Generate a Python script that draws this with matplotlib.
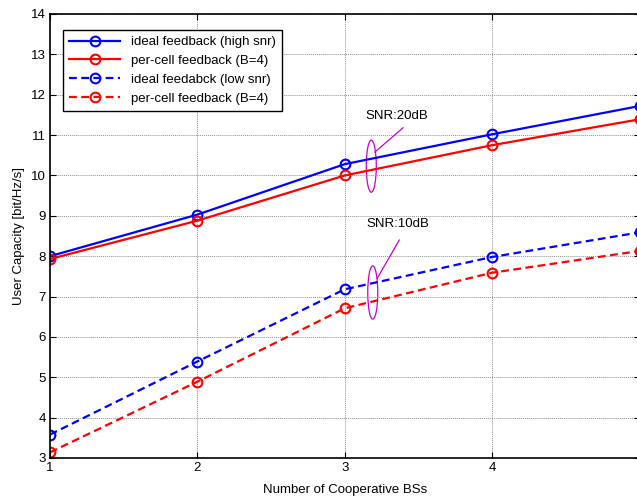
import numpy as np
import matplotlib
matplotlib.use('Agg')
import matplotlib.pyplot as plt
from matplotlib.patches import Ellipse

plt.rcParams['font.family'] = ['Liberation Sans', 'DejaVu Sans']

# data
bs = [1, 2, 3, 4, 5]
ideal_high = [8.0, 9.03, 10.28, 11.02, 11.72]
percell_high = [7.93, 8.88, 10.0, 10.75, 11.39]
ideal_low = [3.58, 5.39, 7.18, 7.98, 8.59]
percell_low = [3.14, 4.89, 6.71, 7.59, 8.13]

labels = ['ideal feedback (high snr)', 'per-cell feedback (B=4)',
          'ideal feedabck (low snr)', 'per-cell feedback (B=4)']
xtick_labels = ['1', '2', '3', '4', '']  # the 5 is cut off in the original

W, H = 637, 499
fig = plt.figure(figsize=(W / 100, H / 100), dpi=100)
ax = fig.add_axes([50 / W, 1 - 458 / H, 589.5 / W, 444 / H])

kw = dict(marker='o', markersize=7, markerfacecolor='none', markeredgewidth=1.5, linewidth=1.6)
ax.plot(bs, ideal_high, color='#0000ff', linestyle='-', label=labels[0], **kw)
ax.plot(bs, percell_high, color='#ff0000', linestyle='-', label=labels[1], **kw)
ax.plot(bs, ideal_low, color='#0000ff', linestyle=(0, (3.5, 2)), label=labels[2], **kw)
ax.plot(bs, percell_low, color='#ff0000', linestyle=(0, (3.5, 2)), label=labels[3], **kw)

ax.set_xlim(1, 5)
ax.set_ylim(3, 14)
ax.set_xticks(bs)
ax.set_xticklabels(xtick_labels)
ax.set_yticks(range(3, 15))
ax.tick_params(direction='in', top=True, right=True, labelsize=9.5, length=4, pad=3)
ax.grid(True, color='#909090', linestyle=(0, (1, 1)), linewidth=0.7)
for s in ax.spines.values():
    s.set_linewidth(1.2)

ax.set_xlabel('Number of Cooperative BSs', fontsize=9.5, labelpad=7)
ax.set_ylabel('User Capacity [bit/Hz/s]', fontsize=9.5, labelpad=4)

# SNR annotations
mag = '#cc00cc'
ax.add_patch(Ellipse((3.18, 10.23), 0.068, 1.29, fill=False, edgecolor=mag, linewidth=0.9))
ax.plot([3.205, 3.395], [10.58, 11.18], color=mag, linewidth=0.9)
ax.text(3.35, 11.48, 'SNR:20dB', fontsize=9.5, ha='center', va='center')
ax.add_patch(Ellipse((3.19, 7.1), 0.068, 1.32, fill=False, edgecolor=mag, linewidth=0.9))
ax.plot([3.22, 3.37], [7.45, 8.4], color=mag, linewidth=0.9)
ax.text(3.36, 8.8, 'SNR:10dB', fontsize=9.5, ha='center', va='center')

leg = ax.legend(loc='upper left', bbox_to_anchor=(13 / 589.5, 1 - 16 / 444), fontsize=9.5,
                frameon=True, fancybox=False, edgecolor='black', framealpha=1,
                handlelength=3.9, borderpad=0.45, labelspacing=0.5, borderaxespad=0)
leg.get_frame().set_linewidth(1.0)

fig.savefig('out.png', dpi=100)
